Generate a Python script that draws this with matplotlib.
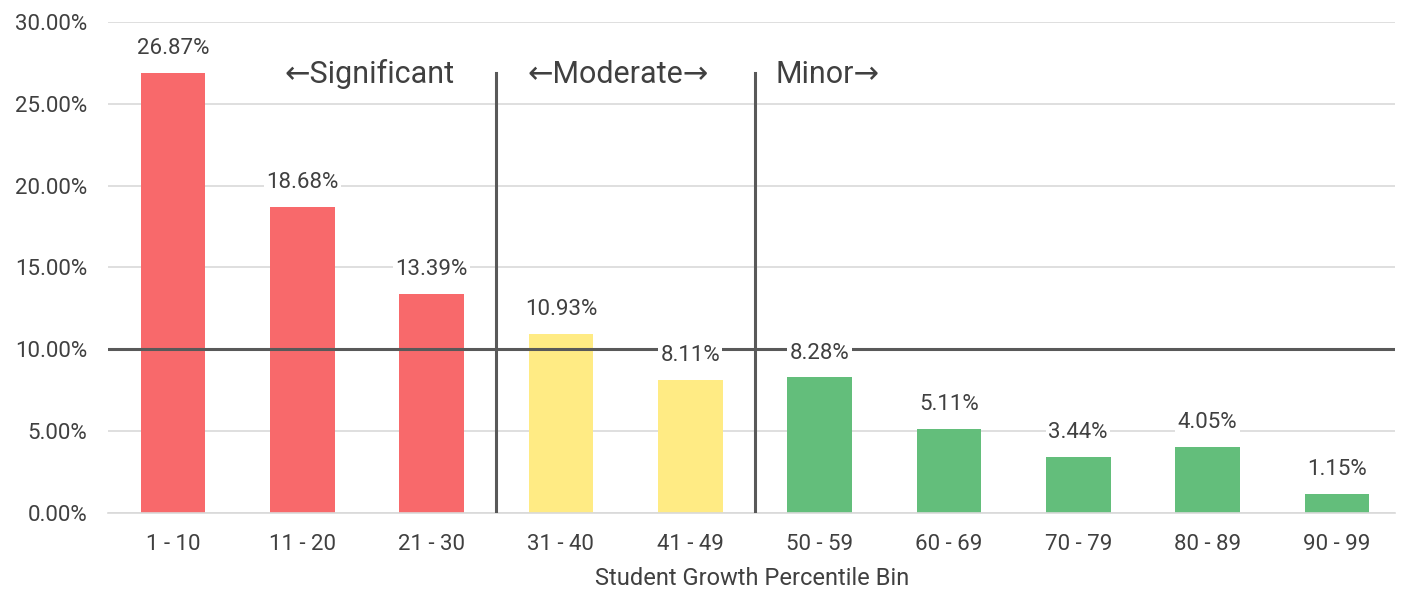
import numpy as np
import matplotlib
matplotlib.use("Agg")
import matplotlib.pyplot as plt

bins = ["1 - 10", "11 - 20", "21 - 30", "31 - 40", "41 - 49",
        "50 - 59", "60 - 69", "70 - 79", "80 - 89", "90 - 99"]
pct = [26.87, 18.68, 13.39, 10.93, 8.11, 8.28, 5.11, 3.44, 4.05, 1.15]
level = ["sig", "sig", "sig", "mod", "mod", "min", "min", "min", "min", "min"]
colors = {"sig": "#F8696B", "mod": "#FFEB84", "min": "#63BE7B"}
threshold = 10.0
divider_top = 26.9

plt.rcParams["font.family"] = ["Roboto", "DejaVu Sans"]
txt = "#404040"

fig = plt.figure(figsize=(14.05, 5.91), dpi=100)
ax = fig.add_axes([0.0771, 0.132, 0.9158, 0.8308])
x = np.arange(len(bins))
ax.bar(x, pct, width=0.5, color=[colors[l] for l in level], zorder=2)

for xi, v in zip(x, pct):
    ax.annotate(f"{v:.2f}%", (xi, v), xytext=(0, 10), textcoords="offset points",
                ha="center", va="bottom", fontsize=16, color=txt, zorder=5,
                bbox=dict(boxstyle="square,pad=0.1", fc="white", ec="none"))

# 10% threshold and band dividers
ax.axhline(threshold, color="#595959", lw=2.2, zorder=3)
for xd in (2.5, 4.5):
    ax.plot([xd, xd], [0, divider_top], color="#595959", lw=2.2, zorder=3)

ax.text(1.52, 26.8, "\u2190Significant", ha="center", va="center", fontsize=22, color=txt)
ax.text(3.44, 26.8, "\u2190Moderate\u2192", ha="center", va="center", fontsize=22, color=txt)
ax.text(4.66, 26.8, "Minor\u2192", ha="left", va="center", fontsize=22, color=txt)

ax.set_xlim(-0.5, 9.45)
ax.set_ylim(0, 30)
ax.set_yticks(np.arange(0, 31, 5))
ax.set_yticklabels([f"{t:.2f}%" for t in np.arange(0, 31, 5)])
ax.set_xticks(x)
ax.set_xticklabels(bins)
ax.yaxis.grid(True, color="#D9D9D9", lw=1.2, zorder=0)
ax.set_axisbelow(True)
for s in ("top", "right", "left"):
    ax.spines[s].set_visible(False)
ax.spines["bottom"].set_color("#D9D9D9")
ax.spines["bottom"].set_linewidth(1.2)
ax.tick_params(length=0, labelsize=16, labelcolor=txt)
ax.tick_params(axis="x", pad=15)
ax.tick_params(axis="y", pad=15)
ax.set_xlabel("Student Growth Percentile Bin", fontsize=17, color=txt, labelpad=9)

fig.savefig("out.png", dpi=100)
